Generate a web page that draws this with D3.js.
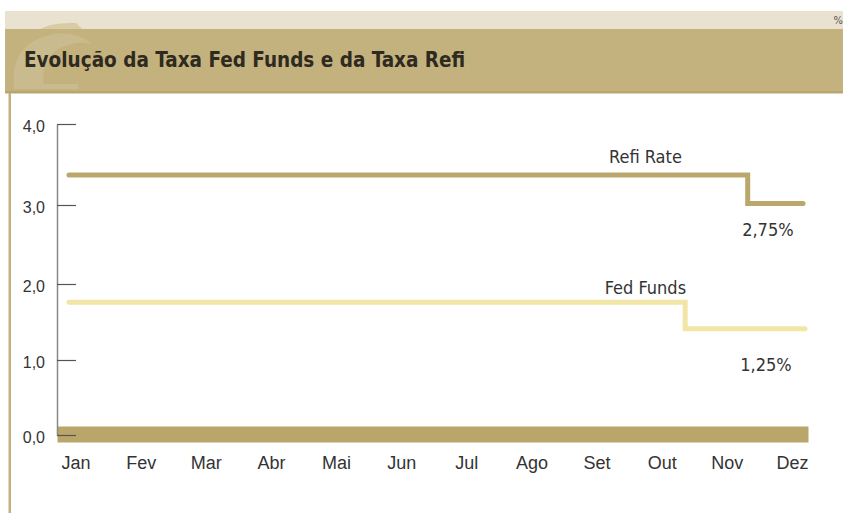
<!DOCTYPE html>
<html>
<head>
<meta charset="utf-8">
<script src="https://cdn.jsdelivr.net/npm/d3@7"></script>
<style>
    body { margin: 0; background: #fff; }
    svg { display: block; font-family: "DejaVu Sans Condensed", "DejaVu Sans", sans-serif; }
</style>
</head>
<body>
<svg id="chart" width="843" height="513"></svg>
<script>
"use strict";

const MONTHS = ['Jan', 'Fev', 'Mar', 'Abr', 'Mai', 'Jun', 'Jul', 'Ago', 'Set', 'Out', 'Nov', 'Dez'];
const Y_TICKS = [0, 1, 2, 3, 4];

// step series: month position where each level starts (0 = Jan), last entry closes the line
const REFI_MONTH = [-0.1, 10.32, 11.17];
const REFI_RATE = [3.37, 3.02, 3.02];
const FED_MONTH = [-0.1, 9.36, 11.2];
const FED_RATE = [1.76, 1.41, 1.41];

const SERIES_NAMES = ['Refi Rate', 'Fed Funds'];
const LAST_RATE_LABELS = ['2,75%', '1,25%'];

const TITLE = 'Evolução da Taxa Fed Funds e da Taxa Refi';

const TEXT_COLOR = '#333';
const BAND_COLOR = '#c4b27e';

const svg = d3.select('#chart');

// header bands
svg.append('rect').attr('x', 5).attr('y', 11).attr('width', 838).attr('height', 18).attr('fill', '#e9e2d0');
svg.append('rect').attr('x', 5).attr('y', 29).attr('width', 838).attr('height', 62).attr('fill', BAND_COLOR);
svg.append('rect').attr('x', 5).attr('y', 91).attr('width', 838).attr('height', 2.5).attr('fill', '#b9a66f');

// faint logo watermark behind the title
const logo = svg.append('g').attr('fill', '#ccbf94').attr('opacity', 0.7);
logo.append('path').attr('d', 'M14,88 Q10,50 40,38 Q70,26 92,44 Q78,40 60,48 Q40,58 44,88 Z');
logo.append('rect').attr('x', 14).attr('y', 84).attr('width', 64).attr('height', 5);
svg.append('path').attr('d', 'M40,29 Q52,22 76,23 L82,29 Z').attr('fill', '#d8cca5');

// left frame line
svg.append('rect').attr('x', 8.5).attr('y', 93).attr('width', 2.5).attr('height', 420).attr('fill', BAND_COLOR);

svg.append('text')
    .attr('x', 24).attr('y', 66.5)
    .attr('font-size', 20.5).attr('font-weight', 'bold')
    .attr('fill', '#2e2a20')
    .text(TITLE);

svg.append('text')
    .attr('x', 843).attr('y', 24)
    .attr('text-anchor', 'end')
    .attr('font-size', 11).attr('fill', '#555')
    .text('%');

// scales
const PLOT_LEFT = 57;
const PLOT_RIGHT = 808;
const x = d3.scaleLinear().domain([0, MONTHS.length - 1]).range([75.5, 792]);
const y = d3.scaleLinear().domain(Y_TICKS).range([435, 360, 284, 205, 124]);

// floor band under the chart
svg.append('rect')
    .attr('x', PLOT_LEFT + 0.5).attr('y', y(0) - 8.5)
    .attr('width', PLOT_RIGHT - PLOT_LEFT).attr('height', 16)
    .attr('fill', '#baa56b');
svg.append('line')
    .attr('x1', PLOT_LEFT + 0.5).attr('x2', PLOT_RIGHT)
    .attr('y1', y(0) - 8.5).attr('y2', y(0) - 8.5)
    .attr('stroke', '#ddd2b0').attr('stroke-width', 1);

// y axis, ticks pointing into the plot
const yAxis = d3.axisLeft(y)
    .tickValues(Y_TICKS)
    .tickSizeInner(-19)
    .tickSizeOuter(0)
    .tickPadding(12)
    .tickFormat(d => d3.format('.1f')(d).replace('.', ','));
const yAxisGroup = svg.append('g').attr('transform', `translate(${PLOT_LEFT},0)`).call(yAxis);
yAxisGroup.select('.domain').attr('stroke', '#888').attr('stroke-width', 1.5);
yAxisGroup.selectAll('.tick line').attr('stroke', '#555').attr('stroke-width', 1.2);
yAxisGroup.selectAll('.tick text')
    .attr('font-size', 16).attr('fill', TEXT_COLOR).attr('dy', '0.45em')
    .attr('font-family', null);

// x axis, labels only
const xAxis = d3.axisBottom(x)
    .tickValues(d3.range(MONTHS.length))
    .tickFormat(i => MONTHS[i])
    .tickSize(0)
    .tickPadding(21);
const xAxisGroup = svg.append('g').attr('transform', `translate(0,${y(0)})`).call(xAxis);
xAxisGroup.select('.domain').remove();
xAxisGroup.selectAll('.tick text').attr('font-size', 18).attr('fill', TEXT_COLOR).attr('font-family', null);

// step lines
const lineFunction = d3.line()
    .x(d => x(d[0]))
    .y(d => y(d[1]))
    .curve(d3.curveStepAfter);

const series = [
    { months: REFI_MONTH, rates: REFI_RATE, color: '#bba76c' },
    { months: FED_MONTH, rates: FED_RATE, color: '#f2e6a6' },
];

for (const s of series) {
    const pairs = s.months.map((m, i) => [m, s.rates[i]]);
    svg.append('path')
        .datum(pairs)
        .attr('d', lineFunction)
        .attr('fill', 'none')
        .attr('stroke', s.color)
        .attr('stroke-width', 5)
        .attr('stroke-linecap', 'round')
        .attr('stroke-linejoin', 'miter');
}

// series names above the first level, last value under the final level
const nameAnchors = [[8.75, REFI_RATE[0], -12], [8.75, FED_RATE[0], -8.5]];
const lastAnchors = [[10.63, REFI_RATE[2], 33], [10.6, FED_RATE[2], 42.5]];

SERIES_NAMES.forEach((name, i) => {
    const [m, v, dy] = nameAnchors[i];
    svg.append('text')
        .attr('x', x(m)).attr('y', y(v) + dy)
        .attr('text-anchor', 'middle')
        .attr('font-size', 18).attr('fill', TEXT_COLOR)
        .text(name);
});

LAST_RATE_LABELS.forEach((label, i) => {
    const [m, v, dy] = lastAnchors[i];
    svg.append('text')
        .attr('x', x(m)).attr('y', y(v) + dy)
        .attr('text-anchor', 'middle')
        .attr('font-size', 18).attr('fill', TEXT_COLOR)
        .text(label);
});
</script>
</body>
</html>
